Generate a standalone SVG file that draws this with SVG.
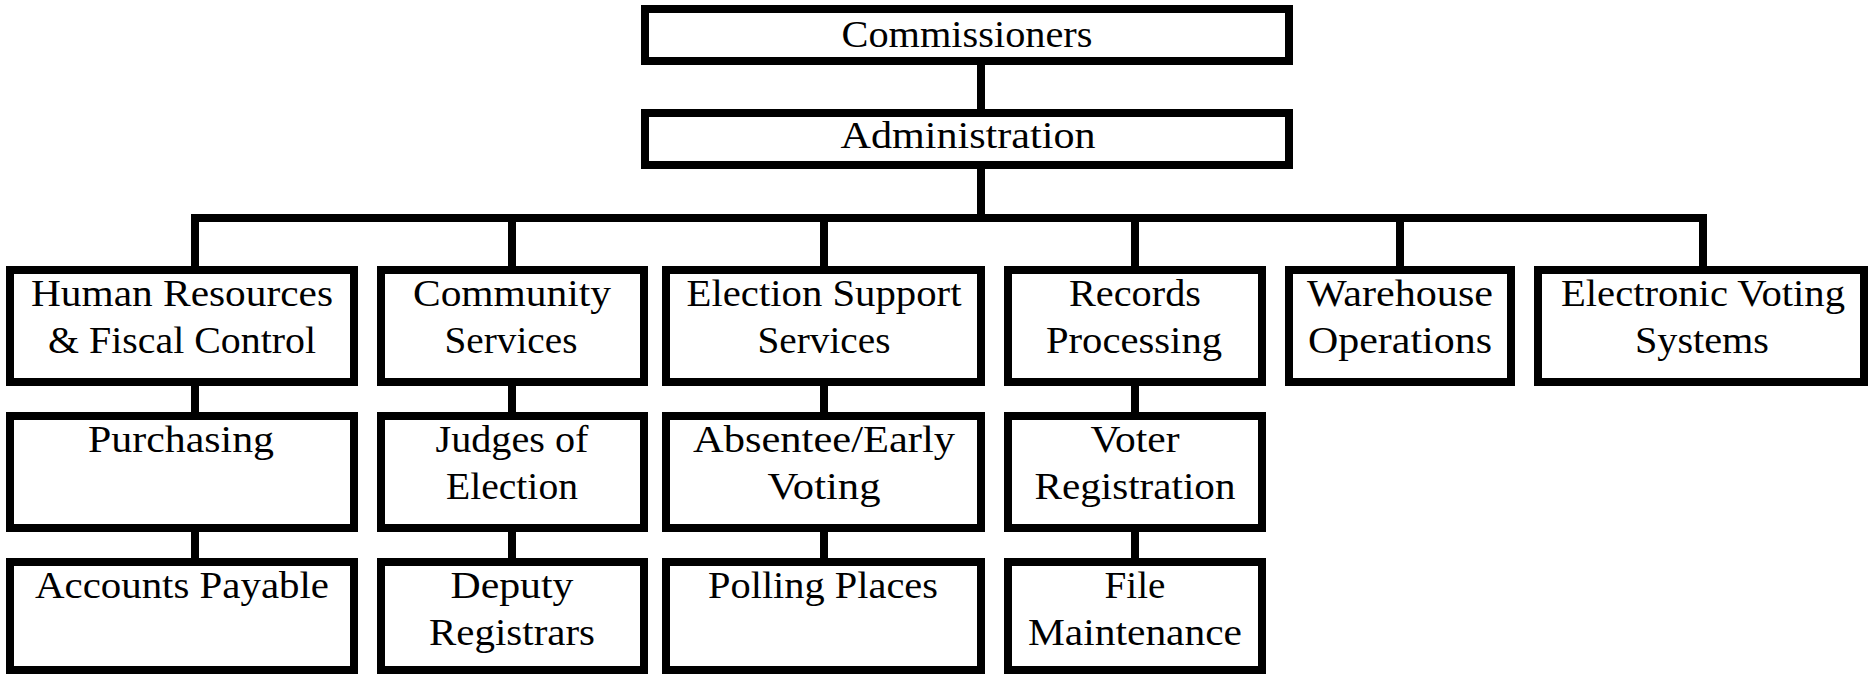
<svg xmlns="http://www.w3.org/2000/svg" width="1869" height="675" viewBox="0 0 1869 675">
<style>
.box{fill:#fff;stroke:#000;stroke-width:8}
.ln{fill:none;stroke:#000;stroke-width:8;stroke-linejoin:miter}
text{font-family:"Liberation Serif","Times New Roman",serif;font-size:38px;fill:#000;text-anchor:middle}
</style>
<rect width="1869" height="675" fill="#fff"/>
<g id="connectors">
<path class="ln" d="M981,65 V109"/>
<path class="ln" d="M981,169 V218"/>
<path class="ln" d="M195,266 V218 H1703 V266"/>
<path class="ln" d="M512,218 V266 M824,218 V266 M1135,218 V266 M1400,218 V266"/>
<path class="ln" d="M195,386 V412 M512,386 V412 M824,386 V412 M1135,386 V412"/>
<path class="ln" d="M195,532 V558 M512,532 V558 M824,532 V558 M1135,532 V558"/>
</g>
<g id="commissioners"><rect class="box" x="645" y="9" width="644" height="52"/><text x="967" y="47" textLength="251" lengthAdjust="spacingAndGlyphs">Commissioners</text></g>
<g id="administration"><rect class="box" x="645" y="113" width="644" height="52"/><text x="968" y="148" textLength="255" lengthAdjust="spacingAndGlyphs">Administration</text></g>
<g id="hr"><rect class="box" x="10" y="270" width="344" height="112"/><text x="182" y="306" textLength="302" lengthAdjust="spacingAndGlyphs">Human Resources</text><text x="182" y="353" textLength="268" lengthAdjust="spacingAndGlyphs">&amp; Fiscal Control</text></g>
<g id="community"><rect class="box" x="381" y="270" width="263" height="112"/><text x="512" y="306" textLength="198" lengthAdjust="spacingAndGlyphs">Community</text><text x="511" y="353" textLength="133" lengthAdjust="spacingAndGlyphs">Services</text></g>
<g id="election-support"><rect class="box" x="666" y="270" width="315" height="112"/><text x="824" y="306" textLength="275" lengthAdjust="spacingAndGlyphs">Election Support</text><text x="824" y="353" textLength="133" lengthAdjust="spacingAndGlyphs">Services</text></g>
<g id="records"><rect class="box" x="1008" y="270" width="254" height="112"/><text x="1135" y="306" textLength="132" lengthAdjust="spacingAndGlyphs">Records</text><text x="1134" y="353" textLength="176" lengthAdjust="spacingAndGlyphs">Processing</text></g>
<g id="warehouse"><rect class="box" x="1289" y="270" width="222" height="112"/><text x="1400" y="306" textLength="186" lengthAdjust="spacingAndGlyphs">Warehouse</text><text x="1400" y="353" textLength="184" lengthAdjust="spacingAndGlyphs">Operations</text></g>
<g id="electronic-voting"><rect class="box" x="1538" y="270" width="326" height="112"/><text x="1703" y="306" textLength="284" lengthAdjust="spacingAndGlyphs">Electronic Voting</text><text x="1702" y="353" textLength="134" lengthAdjust="spacingAndGlyphs">Systems</text></g>
<g id="purchasing"><rect class="box" x="10" y="416" width="344" height="112"/><text x="181" y="452" textLength="186" lengthAdjust="spacingAndGlyphs">Purchasing</text></g>
<g id="judges"><rect class="box" x="381" y="416" width="263" height="112"/><text x="512" y="452" textLength="153" lengthAdjust="spacingAndGlyphs">Judges of</text><text x="512" y="499" textLength="132" lengthAdjust="spacingAndGlyphs">Election</text></g>
<g id="absentee"><rect class="box" x="666" y="416" width="315" height="112"/><text x="824" y="452" textLength="262" lengthAdjust="spacingAndGlyphs">Absentee/Early</text><text x="824" y="499" textLength="113" lengthAdjust="spacingAndGlyphs">Voting</text></g>
<g id="voter-registration"><rect class="box" x="1008" y="416" width="254" height="112"/><text x="1135" y="452" textLength="89" lengthAdjust="spacingAndGlyphs">Voter</text><text x="1135" y="499" textLength="201" lengthAdjust="spacingAndGlyphs">Registration</text></g>
<g id="accounts-payable"><rect class="box" x="10" y="562" width="344" height="108"/><text x="182" y="598" textLength="294" lengthAdjust="spacingAndGlyphs">Accounts Payable</text></g>
<g id="deputy-registrars"><rect class="box" x="381" y="562" width="263" height="108"/><text x="512" y="598" textLength="123" lengthAdjust="spacingAndGlyphs">Deputy</text><text x="512" y="645" textLength="166" lengthAdjust="spacingAndGlyphs">Registrars</text></g>
<g id="polling-places"><rect class="box" x="666" y="562" width="315" height="108"/><text x="823" y="598" textLength="230" lengthAdjust="spacingAndGlyphs">Polling Places</text></g>
<g id="file-maintenance"><rect class="box" x="1008" y="562" width="254" height="108"/><text x="1135" y="598" textLength="61" lengthAdjust="spacingAndGlyphs">File</text><text x="1135" y="645" textLength="214" lengthAdjust="spacingAndGlyphs">Maintenance</text></g>
</svg>
